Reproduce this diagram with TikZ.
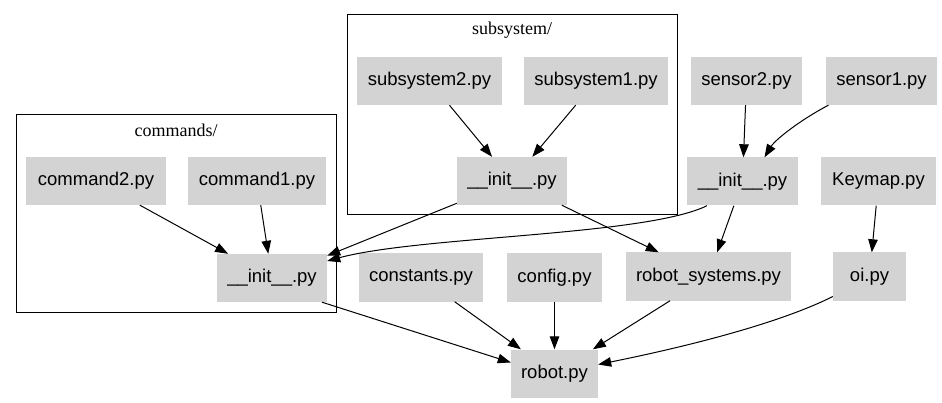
\documentclass[tikz,border=0pt]{standalone}
\usepackage{fontspec}
\setmainfont{Liberation Serif}
\newfontfamily\nodefont{Liberation Sans}
\usetikzlibrary{arrows.meta}
\definecolor{nodegray}{RGB}{211,211,211}
\begin{document}
\begin{tikzpicture}[x=1pt,y=-1pt,
  file/.style={rectangle, fill=nodegray, draw=none, minimum height=48pt, inner sep=0pt,
    font=\nodefont\fontsize{18.5}{22}\selectfont, text=black},
  cluster/.style={draw=black, line width=1pt},
  clabel/.style={font=\fontsize{18}{22}\selectfont, inner sep=0pt},
  edge/.style={-{Triangle[length=13pt,width=9.5pt]}, line width=1pt, draw=black}]
\useasboundingbox (0,0) rectangle (942,403);
\fill[white] (0,0) rectangle (942,403);

% clusters
\draw[cluster] (16,115) rectangle (336,312);
\node[clabel] (lcmd) at (176,130) {commands/};
\draw[cluster] (347,15) rectangle (677,215);
\node[clabel] (lsub) at (512,30) {subsystem/};

% nodes
\node[file, minimum width=140pt] (command2) at (96,181) {command2.py};
\node[file, minimum width=138pt] (command1) at (257,181) {command1.py};
\node[file, minimum width=110pt] (cinit) at (272,278) {\_\_init\_\_.py};
\node[file, minimum width=145pt] (sub2) at (429.5,81) {subsystem2.py};
\node[file, minimum width=144pt] (sub1) at (596,81) {subsystem1.py};
\node[file, minimum width=110pt] (sinit) at (512,181) {\_\_init\_\_.py};
\node[file, minimum width=111pt] (sensor2) at (746.5,81) {sensor2.py};
\node[file, minimum width=111pt] (sensor1) at (881.5,81) {sensor1.py};
\node[file, minimum width=111pt] (seninit) at (742.5,181.5) {\_\_init\_\_.py};
\node[file, minimum width=115pt] (keymap) at (878.5,181.5) {Keymap.py};
\node[file, minimum width=165pt] (robsys) at (708.5,276.5) {robot\_systems.py};
\node[file, minimum width=73pt] (oi) at (869.5,276.5) {oi.py};
\node[file, minimum width=124pt] (constants) at (421,277.5) {constants.py};
\node[file, minimum width=95pt] (config) at (554.5,277.5) {config.py};
\node[file, minimum width=87pt] (robot) at (554.5,373.5) {robot.py};

% edges
\draw[edge] (command2) -- (cinit);
\draw[edge] (command1) -- (cinit);
\draw[edge] (sub2) -- (sinit);
\draw[edge] (sub1) -- (sinit);
\draw[edge] (sinit) -- (cinit);
\draw[edge] ([xshift=-35.5pt]seninit.south) .. controls (645,236) and (420,236) .. ([yshift=17pt]cinit.east);
\draw[edge] (sinit) -- (robsys);
\draw[edge] (seninit) -- (robsys);
\draw[edge] (sensor2) -- (seninit);
\draw[edge] ([xshift=-53pt]sensor1.south) .. controls (800,120) and (775,140) .. ([xshift=22pt]seninit.north);
\draw[edge] (keymap) -- (oi);
\draw[edge] ([xshift=50pt]cinit.south) -- ([yshift=11pt]robot.west);
\draw[edge] (constants) -- (robot);
\draw[edge] (config) -- (robot);
\draw[edge] (robsys) -- (robot);
\draw[edge] ([yshift=-20pt]oi.west) .. controls (770,328) and (660,352) .. ([yshift=9pt]robot.east);
\end{tikzpicture}
\end{document}
